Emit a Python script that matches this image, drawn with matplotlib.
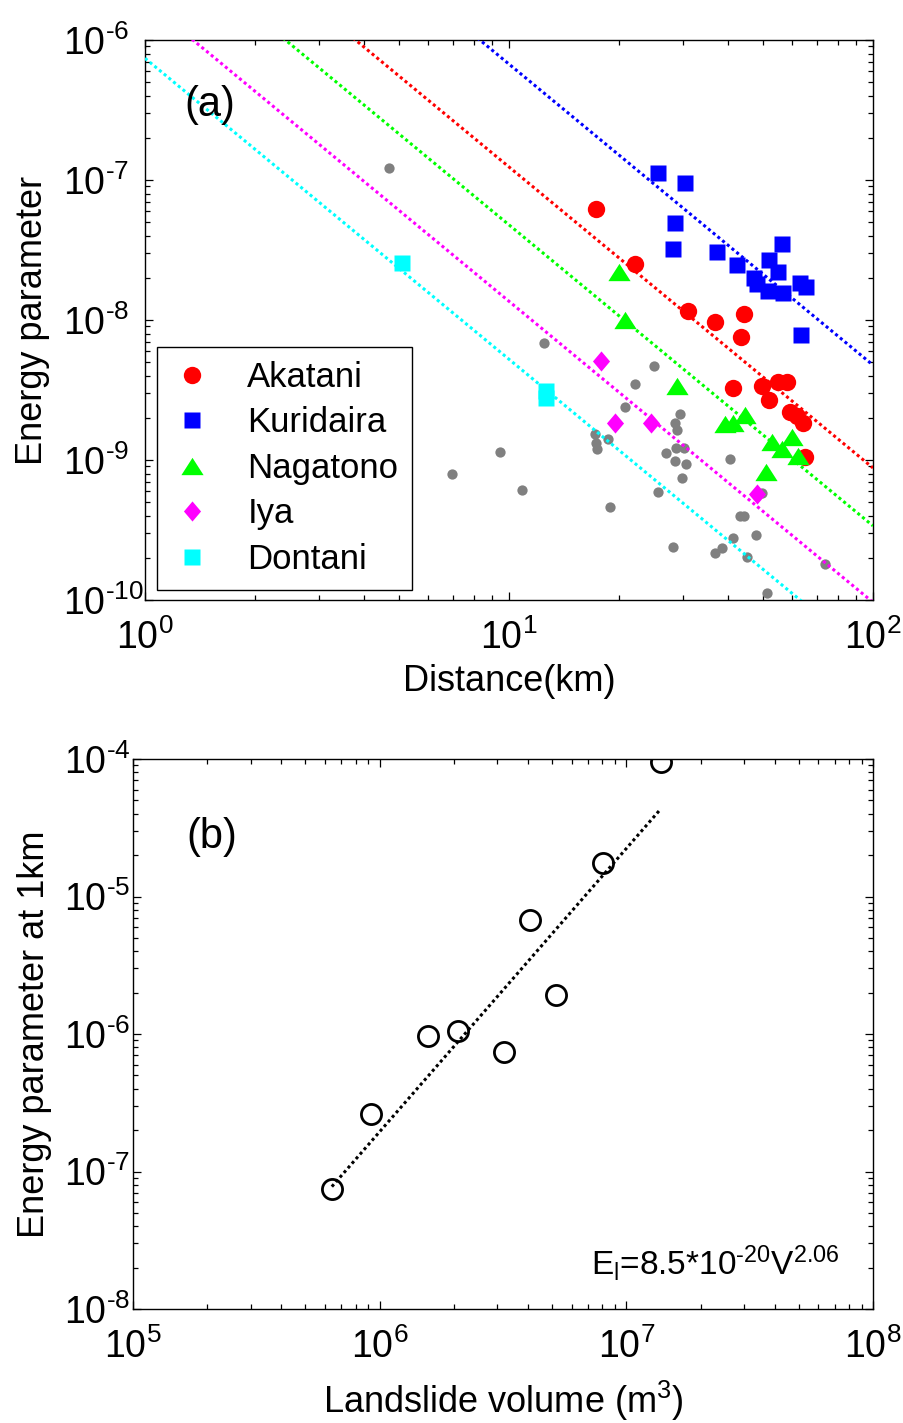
import numpy as np
import matplotlib
matplotlib.use("Agg")
from matplotlib import pyplot as plt
from matplotlib.ticker import LogLocator, FuncFormatter, NullFormatter

plt.rcParams["font.family"] = ["Liberation Sans", "DejaVu Sans"]
plt.rcParams["mathtext.fontset"] = "custom"
plt.rcParams["mathtext.rm"] = "Liberation Sans"
plt.rcParams["mathtext.it"] = "Liberation Sans:italic"

HYPHEN = "\u2010"  # short hyphen, mathtext turns "-" into a long minus


# ---- panel (a): energy parameter vs distance, one series per landslide ----
akatani_dist = [17.3, 22.2, 31.1, 36.8, 44.2, 43.3, 41.3, 49.5, 51.9, 54.9,
                57.9, 59.2, 61.9, 64.1, 65.1]
akatani_e = [6.2e-8, 2.5e-8, 1.16e-8, 9.6e-9, 1.1e-8, 7.6e-9, 3.25e-9, 3.4e-9,
             2.7e-9, 3.6e-9, 3.6e-9, 2.2e-9, 2.05e-9, 1.85e-9, 1.05e-9]

kuridaira_dist = [25.6, 30.4, 28.6, 28.3, 37.3, 42.2, 56.1, 51.9, 54.9, 47.2,
                  48.0, 51.5, 56.7, 63.0, 65.5, 63.3]
kuridaira_e = [1.12e-7, 9.5e-8, 4.9e-8, 3.2e-8, 3.05e-8, 2.45e-8, 3.5e-8,
               2.7e-8, 2.2e-8, 2.0e-8, 1.8e-8, 1.6e-8, 1.55e-8, 1.83e-8,
               1.73e-8, 7.8e-9]

nagatono_dist = [20.0, 20.8, 28.9, 39.2, 41.3, 44.5, 52.7, 59.8, 56.1, 62.4, 50.8]
nagatono_e = [2.2e-8, 1.0e-8, 3.4e-9, 1.8e-9, 1.83e-9, 2.1e-9, 1.35e-9,
              1.47e-9, 1.2e-9, 1.07e-9, 8.2e-10]

iya_dist = [17.9, 19.6, 24.5, 48.1]
iya_e = [5.1e-9, 1.85e-9, 1.85e-9, 5.7e-10]

dontani_dist = [5.07, 12.6, 12.6]
dontani_e = [2.57e-8, 3.1e-9, 2.75e-9]

other_dist = [4.69, 6.96, 9.45, 10.86, 12.5, 17.2, 17.3, 17.5, 18.7, 18.9,
              20.8, 22.2, 25.0, 25.6, 27.0, 28.3, 28.6, 28.9, 29.5, 28.8,
              30.3, 28.6, 30.6, 29.8, 36.8, 38.4, 40.5, 41.3, 43.1, 44.2,
              45.2, 47.7, 49.5, 51.1, 73.8]
other_e = [1.21e-7, 7.9e-10, 1.14e-9, 6.1e-10, 6.8e-9, 1.53e-9, 1.32e-9,
           1.19e-9, 1.41e-9, 4.6e-10, 2.4e-9, 3.5e-9, 4.7e-9, 5.9e-10,
           1.12e-9, 2.4e-10, 1.85e-9, 1.64e-9, 2.13e-9, 1.21e-9, 1.21e-9,
           9.9e-10, 9.4e-10, 7.4e-10, 2.16e-10, 2.34e-10, 1.02e-9, 2.76e-10,
           4.0e-10, 4.0e-10, 2.02e-10, 2.9e-10, 5.8e-10, 1.12e-10, 1.81e-10]

site_names = ["Akatani", "Kuridaira", "Nagatono", "Iya", "Dontani"]
site_colors = ["#ff0000", "#0000ff", "#00ff00", "#ff00ff", "#00ffff"]
# energy parameter at 1 km for each site (same values as panel b)
site_e1 = [1.75e-5, 9.5e-5, 6.75e-6, 1.92e-6, 7.4e-7]
decay_exp = -2.15

# ---- panel (b): energy parameter at 1 km vs landslide volume ----
volume = [6.4e5, 9.2e5, 1.57e6, 2.08e6, 3.19e6, 4.07e6, 5.19e6, 8.04e6, 1.38e7]
e_1km = [7.5e-8, 2.6e-7, 9.7e-7, 1.05e-6, 7.4e-7, 6.75e-6, 1.92e-6, 1.75e-5, 9.5e-5]
fit_coef = 8.5e-20
fit_exp = 2.06


def pow10(v, pos=None):
    n = int(round(np.log10(v)))
    s = str(abs(n)) if n >= 0 else HYPHEN + str(abs(n))
    return r"$\mathregular{10^{%s}}$" % s


def style_log_axes(ax, ylims, ypad):
    for axis in (ax.xaxis, ax.yaxis):
        axis.set_minor_locator(LogLocator(base=10, subs=np.arange(2, 10), numticks=20))
        axis.set_minor_formatter(NullFormatter())
    ax.xaxis.set_major_locator(LogLocator(base=10, numticks=20))
    ax.xaxis.set_major_formatter(FuncFormatter(pow10))
    # matlab style: y labels start at the same left edge
    yt = 10.0 ** np.arange(ylims[0], ylims[1] + 1)
    ax.set_yticks(yt, labels=[pow10(t) for t in yt], ha="left")
    ax.set_ylim(yt[0], yt[-1])
    ax.tick_params(which="both", direction="in", top=True, right=True,
                   width=0.9, labelsize=27)
    ax.tick_params(which="major", length=6)
    ax.tick_params(which="minor", length=3.5)
    ax.tick_params(axis="x", pad=14)
    ax.tick_params(axis="y", pad=ypad)
    for sp in ax.spines.values():
        sp.set_linewidth(1.0)


tri = [(0, 0.78), (-1, -0.78), (1, -0.78)]
dia = [(0, 1), (-0.85, 0), (0, -1), (0.85, 0)]

fig = plt.figure(figsize=(9.04, 14.23), dpi=100)
ax1 = fig.add_axes([0.1604, 0.5784, 0.8053, 0.3935])
ax2 = fig.add_axes([0.1471, 0.0801, 0.8186, 0.3865])

# panel (a)
ax1.plot(other_dist, other_e, "o", color="#808080", ms=7.4, mec="none", zorder=2)

d = np.array([1.0, 100.0])
for e1, col in zip(site_e1, site_colors):
    ax1.plot(d, e1 * d ** decay_exp, color=col, lw=2.2,
             linestyle=(0, (1, 1)), zorder=3)

ax1.plot(akatani_dist, akatani_e, "o", color=site_colors[0], ms=12.5,
         mec="none", label=site_names[0], zorder=4)
ax1.plot(kuridaira_dist, kuridaira_e, "s", color=site_colors[1], ms=12,
         mec="none", label=site_names[1], zorder=4)
ax1.plot(nagatono_dist, nagatono_e, marker=tri, ls="none", color=site_colors[2],
         ms=16, mec="none", label=site_names[2], zorder=4)
ax1.plot(iya_dist, iya_e, marker=dia, ls="none", color=site_colors[3], ms=14.5,
         mec="none", label=site_names[3], zorder=4)
ax1.plot(dontani_dist, dontani_e, "s", color=site_colors[4], ms=12,
         mec="none", label=site_names[4], zorder=4)

ax1.set_xscale("log")
ax1.set_yscale("log")
ax1.set_xlim(1, 100)
style_log_axes(ax1, (-10, -6), ypad=59)
ax1.set_xlabel("Distance(km)", fontsize=26)
ax1.set_ylabel("Energy parameter", fontsize=26)
ax1.xaxis.set_label_coords(0.5, -0.115)
ax1.yaxis.set_label_coords(-0.13, 0.5)
ax1.text(0.089, 0.884, "(a)", transform=ax1.transAxes, fontsize=30,
         ha="center", va="center")

leg = ax1.legend(loc="lower left", bbox_to_anchor=(0.0165, 0.018),
                 borderaxespad=0, fontsize=25, frameon=True, fancybox=False,
                 edgecolor="black", framealpha=1, handlelength=1.2,
                 handletextpad=1.0, labelspacing=0.36, borderpad=0.4,
                 numpoints=1)
leg.get_frame().set_linewidth(1.0)

# panel (b)
v = np.array([min(volume), max(volume)])
ax2.plot(v, fit_coef * v ** fit_exp, color="black", lw=2.2,
         linestyle=(0, (1, 1)), zorder=2)
ax2.plot(volume, e_1km, "o", mfc="none", mec="black", mew=2.0, ms=14.5, zorder=3)

ax2.set_xscale("log")
ax2.set_yscale("log")
ax2.set_xlim(1e5, 1e8)
style_log_axes(ax2, (-8, -4), ypad=50)
ax2.set_xlabel(r"Landslide volume (m$^{\mathregular{3}}$)", fontsize=26)
ax2.set_ylabel("Energy parameter at 1km", fontsize=26)
ax2.xaxis.set_label_coords(0.5, -0.127)
ax2.yaxis.set_label_coords(-0.11, 0.5)
ax2.text(0.107, 0.858, "(b)", transform=ax2.transAxes, fontsize=30,
         ha="center", va="center")
ax2.text(0.955, 0.062,
         r"E$_\mathregular{l}$=8.5*10$^{\mathregular{%s20}}$V$^{\mathregular{2.06}}$" % HYPHEN,
         transform=ax2.transAxes, fontsize=24, ha="right", va="baseline")

fig.savefig("out.png", dpi=100)
